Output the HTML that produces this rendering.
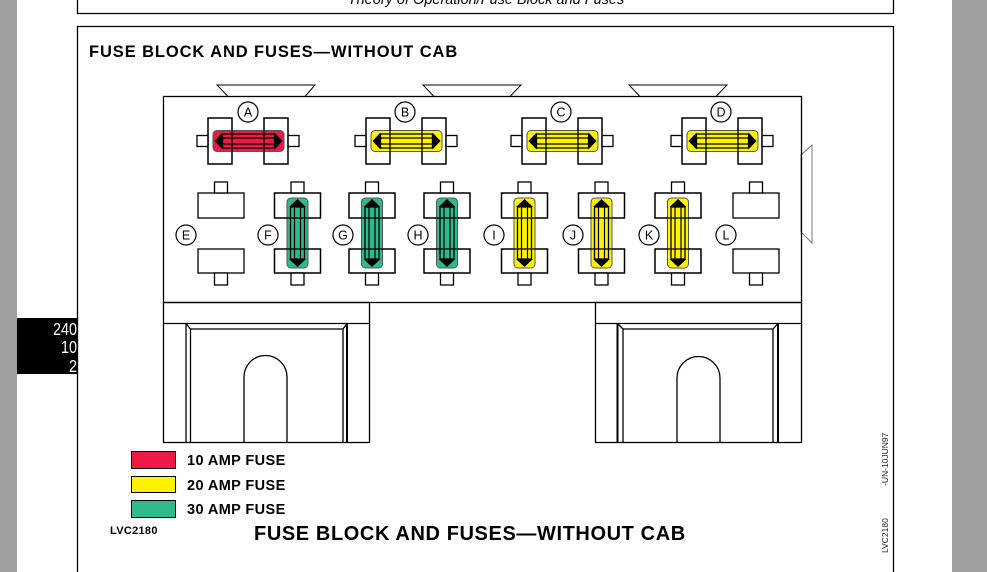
<!DOCTYPE html>
<html><head><meta charset="utf-8"><style>
html,body{margin:0;padding:0;background:#fff;}
svg{display:block;font-family:"Liberation Sans",Arial,sans-serif;}
</style></head><body>
<svg width="987" height="572" viewBox="0 0 987 572" xmlns="http://www.w3.org/2000/svg">
<defs>
<g id="hf">
 <rect x="-40.5" y="-23" width="24" height="46" fill="#fff" stroke="#000" stroke-width="1.3"/>
 <rect x="15.5" y="-23" width="24" height="46" fill="#fff" stroke="#000" stroke-width="1.3"/>
 <rect x="-51.5" y="-5.5" width="11" height="11" fill="#fff" stroke="#000" stroke-width="1.3"/>
 <rect x="39.5" y="-5.5" width="11" height="11" fill="#fff" stroke="#000" stroke-width="1.3"/>
</g>
<g id="hfo">
 <rect x="-40.5" y="-23" width="24" height="46" fill="none" stroke="#000" stroke-width="1.3"/>
 <rect x="15.5" y="-23" width="24" height="46" fill="none" stroke="#000" stroke-width="1.3"/>
 <rect x="-26" y="-7" width="52" height="14" fill="none" stroke="#000" stroke-width="1.3"/>
 <line x1="-26" y1="-3" x2="26" y2="-3" stroke="#000" stroke-width="1.2"/>
 <line x1="-26" y1="3" x2="26" y2="3" stroke="#000" stroke-width="1.2"/>
 <polygon points="-34,0 -26,-8.5 -26,8.5" fill="#000"/>
 <polygon points="34,0 26,-8.5 26,8.5" fill="#000"/>
</g>
<g id="vs">
 <rect x="-23" y="-40" width="46" height="25" fill="#fff" stroke="#000" stroke-width="1.3"/>
 <rect x="-23" y="16" width="46" height="24" fill="#fff" stroke="#000" stroke-width="1.3"/>
 <rect x="-6.5" y="-51" width="13" height="11" fill="#fff" stroke="#000" stroke-width="1.3"/>
 <rect x="-6.5" y="40" width="13" height="12" fill="#fff" stroke="#000" stroke-width="1.3"/>
</g>
<g id="vfo">
 <rect x="-23" y="-40" width="46" height="25" fill="none" stroke="#000" stroke-width="1.3"/>
 <rect x="-23" y="16" width="46" height="24" fill="none" stroke="#000" stroke-width="1.3"/>
 <rect x="-7" y="-26" width="14" height="52" fill="none" stroke="#000" stroke-width="1.3"/>
 <line x1="-3" y1="-26" x2="-3" y2="26" stroke="#000" stroke-width="1.2"/>
 <line x1="3" y1="-26" x2="3" y2="26" stroke="#000" stroke-width="1.2"/>
 <polygon points="0,-34 -8.5,-26 8.5,-26" fill="#000"/>
 <polygon points="0,34 -8.5,26 8.5,26" fill="#000"/>
</g>
</defs>
<rect x="0" y="0" width="17" height="572" fill="#a09ea1"/>
<rect x="952" y="0" width="35" height="572" fill="#a09ea1"/>
<text x="486" y="4" text-anchor="middle" font-size="14.5" font-style="italic" fill="#000">Theory of Operation/Fuse Block and Fuses</text>
<path d="M77.5 0 V13.5 H893.5 V0" fill="none" stroke="#000" stroke-width="1.3"/>
<path d="M77.5 572 V26.5 H893.5 V572" fill="none" stroke="#000" stroke-width="1.3"/>
<text x="89" y="57" font-size="16.5" font-weight="bold" letter-spacing="0.9">FUSE BLOCK AND FUSES—WITHOUT CAB</text>
<rect x="17" y="318" width="60" height="56" fill="#000"/>
<g fill="#fff" font-size="18" text-anchor="end">
<text x="77" y="335" transform="translate(77 0) scale(0.8 1) translate(-77 0)">240</text>
<text x="77" y="353" transform="translate(77 0) scale(0.8 1) translate(-77 0)">10</text>
<text x="77" y="372" transform="translate(77 0) scale(0.8 1) translate(-77 0)">2</text>
</g>
<g fill="#fff" stroke="#000" stroke-width="1">
<polygon points="217,85 315,85 305,96.5 228,96.5"/>
<polygon points="423,85 521,85 510,96.5 434,96.5"/>
<polygon points="629,85 727,85 716,96.5 640,96.5"/>
<polygon points="801,155 812,145 812,243 801,232" stroke="#777"/>
</g>
<rect x="163.5" y="96.5" width="638" height="206" fill="none" stroke="#000" stroke-width="1.3"/>
<g fill="none" stroke="#000" stroke-width="1.3">
<rect x="163.5" y="302.5" width="206" height="140"/>
<line x1="163.5" y1="323.5" x2="369.5" y2="323.5"/>
<line x1="186" y1="323.5" x2="186" y2="442"/>
<line x1="190.5" y1="329" x2="190.5" y2="442"/>
<line x1="343" y1="329" x2="343" y2="442"/>
<line x1="347" y1="323.5" x2="347" y2="442" stroke-width="2"/>
<line x1="190.5" y1="329" x2="343" y2="329"/>
<line x1="186" y1="323.5" x2="190.5" y2="329"/>
<line x1="347" y1="323.5" x2="343" y2="329"/>
<path d="M244 442 V377 A21.5 21.5 0 0 1 287 377 V442"/>
<rect x="595.5" y="302.5" width="206" height="140"/>
<line x1="595.5" y1="323.5" x2="801.5" y2="323.5"/>
<line x1="617.5" y1="323.5" x2="617.5" y2="442" stroke-width="2"/>
<line x1="623" y1="329" x2="623" y2="442"/>
<line x1="773" y1="329" x2="773" y2="442"/>
<line x1="778" y1="323.5" x2="778" y2="442" stroke-width="2"/>
<line x1="623" y1="329" x2="773" y2="329"/>
<line x1="617.5" y1="323.5" x2="623" y2="329"/>
<line x1="778" y1="323.5" x2="773" y2="329"/>
<path d="M677 442 V378 A21.5 21.5 0 0 1 720 378 V442"/>
</g>
<g transform="translate(248.5 141)"><use href="#hf"/><rect x="-35.5" y="-10.5" width="71" height="21" rx="4" fill="#ef1848" stroke="#555"/><use href="#hfo"/></g>
<g transform="translate(406.5 141)"><use href="#hf"/><rect x="-35.5" y="-10.5" width="71" height="21" rx="4" fill="#fff200" stroke="#555"/><use href="#hfo"/></g>
<g transform="translate(562.5 141)"><use href="#hf"/><rect x="-35.5" y="-10.5" width="71" height="21" rx="4" fill="#fff200" stroke="#555"/><use href="#hfo"/></g>
<g transform="translate(722.5 141)"><use href="#hf"/><rect x="-35.5" y="-10.5" width="71" height="21" rx="4" fill="#fff200" stroke="#555"/><use href="#hfo"/></g>
<g transform="translate(221 233)"><use href="#vs"/></g>
<g transform="translate(297.5 233)"><use href="#vs"/><rect x="-10.5" y="-35" width="21" height="70" rx="4" fill="#30b98a" stroke="#555"/><use href="#vfo"/></g>
<g transform="translate(372 233)"><use href="#vs"/><rect x="-10.5" y="-35" width="21" height="70" rx="4" fill="#30b98a" stroke="#555"/><use href="#vfo"/></g>
<g transform="translate(447 233)"><use href="#vs"/><rect x="-10.5" y="-35" width="21" height="70" rx="4" fill="#30b98a" stroke="#555"/><use href="#vfo"/></g>
<g transform="translate(524.5 233)"><use href="#vs"/><rect x="-10.5" y="-35" width="21" height="70" rx="4" fill="#fff200" stroke="#555"/><use href="#vfo"/></g>
<g transform="translate(601.5 233)"><use href="#vs"/><rect x="-10.5" y="-35" width="21" height="70" rx="4" fill="#fff200" stroke="#555"/><use href="#vfo"/></g>
<g transform="translate(678 233)"><use href="#vs"/><rect x="-10.5" y="-35" width="21" height="70" rx="4" fill="#fff200" stroke="#555"/><use href="#vfo"/></g>
<g transform="translate(756 233)"><use href="#vs"/></g>
<g fill="#fff" stroke="#000" stroke-width="1.2">
<circle cx="248" cy="112" r="10"/><circle cx="405" cy="112" r="10"/><circle cx="561" cy="112" r="10"/><circle cx="721" cy="112" r="10"/>
<circle cx="186" cy="235" r="10"/><circle cx="268" cy="235" r="10"/><circle cx="343" cy="235" r="10"/><circle cx="418" cy="235" r="10"/>
<circle cx="494" cy="235" r="10"/><circle cx="573" cy="235" r="10"/><circle cx="649" cy="235" r="10"/><circle cx="726" cy="235" r="10"/>
</g>
<g font-size="12.5" text-anchor="middle" fill="#000">
<text x="248" y="116.5">A</text><text x="405" y="116.5">B</text><text x="561" y="116.5">C</text><text x="721" y="116.5">D</text>
<text x="186" y="239.5">E</text><text x="268" y="239.5">F</text><text x="343" y="239.5">G</text><text x="418" y="239.5">H</text>
<text x="494" y="239.5">I</text><text x="573" y="239.5">J</text><text x="649" y="239.5">K</text><text x="726" y="239.5">L</text>
</g>
<rect x="131.5" y="451.5" width="44" height="17" fill="#ef1848" stroke="#000"/>
<rect x="131.5" y="476.5" width="44" height="16" fill="#fff200" stroke="#000"/>
<rect x="131.5" y="500.5" width="44" height="17" fill="#30b98a" stroke="#000"/>
<g font-size="14.5" font-weight="bold" letter-spacing="0.4">
<text x="187" y="465">10 AMP FUSE</text>
<text x="187" y="490">20 AMP FUSE</text>
<text x="187" y="514">30 AMP FUSE</text>
</g>
<text x="110" y="534" font-size="11" font-weight="bold" letter-spacing="0.3">LVC2180</text>
<text x="254" y="540" font-size="20" font-weight="bold" letter-spacing="0.6">FUSE BLOCK AND FUSES—WITHOUT CAB</text>
<g font-size="8.5" fill="#222">
<text transform="translate(888 486) rotate(-90)">-UN-10JUN97</text>
<text transform="translate(888 553) rotate(-90)">LVC2180</text>
</g>
</svg>
</body></html>
